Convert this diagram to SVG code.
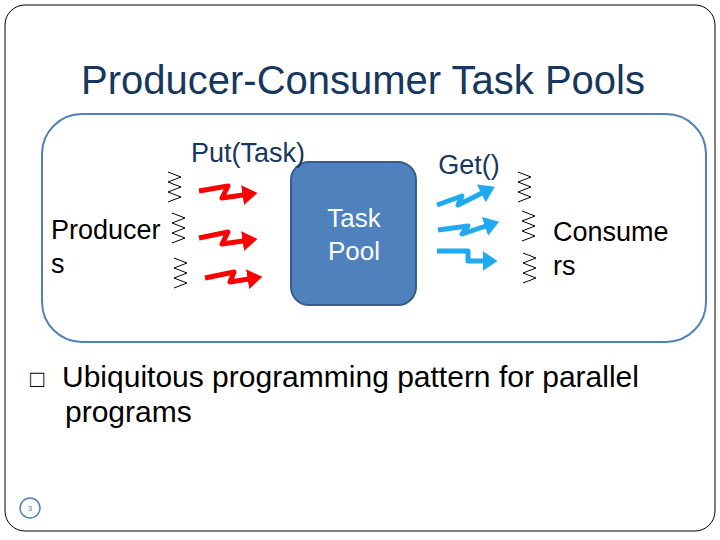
<svg xmlns="http://www.w3.org/2000/svg" width="720" height="540" viewBox="0 0 720 540">
<style>
text{font-family:"Liberation Sans",Arial,sans-serif}
.t{fill:#17375e}
.zz{fill:none;stroke:#000;stroke-width:1}
.r{fill:none;stroke:#f00;stroke-width:5;stroke-linejoin:round}
.b{fill:none;stroke:#1eaaf0;stroke-width:5;stroke-linejoin:round}
</style>
<defs>
<marker id="ar" markerWidth="4" markerHeight="4" refX="1.5" refY="2" orient="auto" markerUnits="strokeWidth"><path d="M0,0 L3,2 L0,4 Z" fill="#f00"/></marker>
<marker id="ab" markerWidth="4" markerHeight="4" refX="1.5" refY="2" orient="auto" markerUnits="strokeWidth"><path d="M0,0 L3,2 L0,4 Z" fill="#1eaaf0"/></marker>
<path id="z" d="M0,0 l13,5 l-13,5 l13,5 l-13,5 l13,5 l-13,5"/>
</defs>
<rect x="5" y="5" width="710" height="526" rx="20" fill="#fff" stroke="#000" stroke-width="1"/>
<text x="363" y="94" font-size="40" text-anchor="middle" class="t">Producer-Consumer Task Pools</text>
<rect id="frame" x="42" y="114" width="664" height="228" rx="40" fill="none" stroke="#4f81bd" stroke-width="2"/>
<g id="producers">
<text x="51" y="239" font-size="27">Producer</text>
<text x="51" y="273" font-size="27">s</text>
<use href="#z" x="168" y="172" class="zz"/>
<use href="#z" x="172" y="213" class="zz"/>
<use href="#z" x="174" y="258" class="zz"/>
</g>
<g id="consumers">
<text x="553" y="241" font-size="27">Consume</text>
<text x="553" y="275" font-size="27">rs</text>
<use href="#z" x="518" y="172" class="zz"/>
<use href="#z" x="522" y="211" class="zz"/>
<use href="#z" x="523" y="253" class="zz"/>
</g>
<g id="pool">
<rect x="291" y="162" width="125" height="143" rx="18" fill="#4f81bd" stroke="#385d8a" stroke-width="2"/>
<text x="354" y="227" font-size="26" text-anchor="middle" fill="#fff">Task</text>
<text x="354" y="260" font-size="26" text-anchor="middle" fill="#fff">Pool</text>
</g>
<text x="248" y="162" font-size="27" text-anchor="middle" class="t">Put(Task)</text>
<text x="469" y="174" font-size="27" text-anchor="middle" class="t">Get()</text>
<g id="connectors">
<polyline class="r" marker-end="url(#ar)" points="199,191 228,186 222,198 250,194"/>
<polyline class="r" marker-end="url(#ar)" points="199,238 228,232 222,244 250,240"/>
<polyline class="r" marker-end="url(#ar)" points="205,278 234,272 230,282 255,278"/>
<polyline class="b" marker-end="url(#ab)" points="437,205 462,196 458,205 488,190"/>
<polyline class="b" marker-end="url(#ab)" points="438,230 468,226 462,234 492,224"/>
<polyline class="b" marker-end="url(#ab)" points="437,251 468,251 468,261 490,261"/>
</g>
<text x="30" y="387" font-size="24">□</text>
<text x="62" y="387" font-size="30">Ubiquitous programming pattern for parallel</text>
<text x="65" y="422" font-size="30">programs</text>
<circle cx="30" cy="508" r="10" fill="#fff" stroke="#4f81bd" stroke-width="1.5"/>
<text x="30" y="511" font-size="8" text-anchor="middle" fill="#4f81bd">3</text>
</svg>
